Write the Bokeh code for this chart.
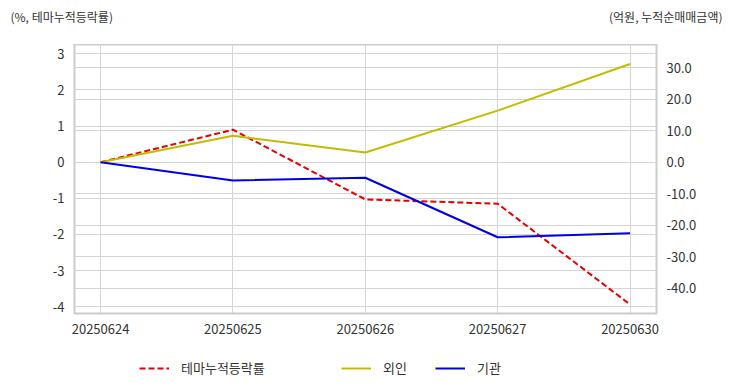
from bokeh.plotting import figure
from bokeh.layouts import column, row
from bokeh.models import (Range1d, LinearAxis, FixedTicker, Grid, Legend, LegendItem,
                          NumeralTickFormatter, ColumnDataSource)
from bokeh.core.properties import value
from bokeh.embed import file_html
from bokeh.resources import INLINE

dates = ["20250624", "20250625", "20250626", "20250627", "20250630"]
theme_pct = [0.0, 0.90, -1.03, -1.15, -3.94]     # 테마누적등락률 (%), left axis
foreign = [0.0, 8.4, 3.1, 16.4, 31.2]            # 외인 (억원), right axis
institution = [0.0, -5.8, -4.9, -23.8, -22.5]    # 기관 (억원), right axis
left_ticks = [-4, -3, -2, -1, 0, 1, 2, 3]
right_ticks = [-40, -30, -20, -10, 0, 10, 20, 30]
left_unit = "(%, 테마누적등락률)"
right_unit = "(억원, 누적순매매금액)"
series_names = ["테마누적등락률", "외인", "기관"]

FONT = "Noto Sans CJK KR"
TXT = "#333333"
GRID = "#d4d4d4"
W = 724
COLORS = ["#e60000", "#c4bb00", "#0000e6"]
DASHES = ["6 3", "solid", "solid"]

def bare(fig):
    fig.outline_line_color = None
    fig.xgrid.visible = False
    fig.ygrid.visible = False
    fig.background_fill_color = "white"
    fig.border_fill_color = "white"

# ---- top strip with unit captions
top = figure(width=W, height=44, output_backend="svg", toolbar_location=None,
             x_range=Range1d(0, W), y_range=Range1d(0, 44),
             x_axis_location=None, y_axis_location=None,
             min_border=0, min_border_left=0, min_border_right=0, min_border_top=0, min_border_bottom=0)
bare(top)
top.text(x=[10], y=[28], text=[left_unit], text_font=value(FONT), text_font_size="12px",
         text_color=TXT, text_baseline="middle", text_align="left")
top.text(x=[722], y=[28], text=[right_unit], text_font=value(FONT), text_font_size="12px",
         text_color=TXT, text_baseline="middle", text_align="right")

# ---- main chart
xs = list(range(len(dates)))
src = ColumnDataSource(dict(x=xs, theme=theme_pct, foreign=foreign, inst=institution))

p = figure(width=W, height=299, output_backend="svg", toolbar_location=None,
           x_range=Range1d(-0.197, len(dates) - 1 + 0.2), y_range=Range1d(-4.19, 3.26),
           min_border_left=74, min_border_right=W - 656, min_border_top=0, min_border_bottom=30)
p.extra_y_ranges = {"right": Range1d(-48.0, 37.4)}
p.outline_line_color = "#cccccc"
p.outline_line_width = 2
p.background_fill_color = "white"
p.border_fill_color = "white"

p.xaxis.ticker = FixedTicker(ticks=xs)
p.xaxis.major_label_overrides = {i: d for i, d in enumerate(dates)}
p.yaxis.ticker = FixedTicker(ticks=left_ticks)
p.yaxis.formatter = NumeralTickFormatter(format="0")
raxis = LinearAxis(y_range_name="right", ticker=FixedTicker(ticks=right_ticks),
                   formatter=NumeralTickFormatter(format="0.0"))
p.add_layout(raxis, "right")

for ax in [p.xaxis[0], p.yaxis[0], raxis]:
    ax.axis_line_color = None
    ax.major_tick_line_color = None
    ax.minor_tick_line_color = None
    ax.major_label_text_font = FONT
    ax.major_label_text_font_size = "13px"
    ax.major_label_text_color = TXT
    ax.major_label_standoff = 4

p.xgrid.grid_line_color = GRID
p.ygrid.grid_line_color = GRID
p.add_layout(Grid(dimension=1, ticker=raxis.ticker, y_range_name="right", grid_line_color=GRID))

p.line("x", "theme", source=src, line_color=COLORS[0], line_width=2, line_dash=DASHES[0])
p.line("x", "foreign", source=src, y_range_name="right", line_color=COLORS[1], line_width=2)
p.line("x", "inst", source=src, y_range_name="right", line_color=COLORS[2], line_width=2)

# ---- legend strip
leg = figure(width=W, height=41, output_backend="svg", toolbar_location=None,
             x_range=Range1d(0, 1), y_range=Range1d(0, 1),
             x_axis_location=None, y_axis_location=None,
             min_border=0, min_border_left=0, min_border_right=0, min_border_top=0, min_border_bottom=0)
bare(leg)
leg_x = [139, 341, 435]
for name, col, dash, lx in zip(series_names, COLORS, DASHES, leg_x):
    r = leg.line(x=[float("nan")], y=[float("nan")], line_color=col, line_width=2, line_dash=dash)
    lg = Legend(items=[LegendItem(label=name, renderers=[r])], location=(lx, 7),
                orientation="horizontal", padding=0, margin=0, glyph_height=16, glyph_width=30,
                label_standoff=12, border_line_color=None, background_fill_alpha=0,
                label_text_font=FONT, label_text_font_size="13px", label_text_color=TXT)
    leg.add_layout(lg, "center")

layout = column(row(top), p, row(leg), spacing=0)
open("out.html", "w").write(file_html(layout, INLINE))
